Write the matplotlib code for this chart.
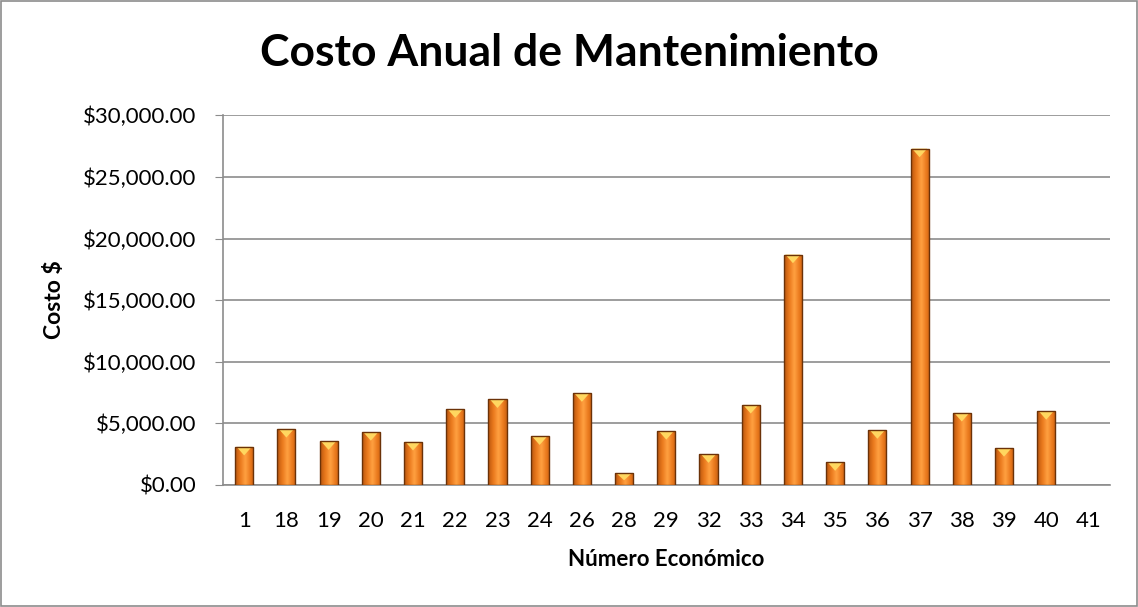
import numpy as np
import matplotlib.pyplot as plt
from matplotlib.patches import Rectangle, Polygon
from matplotlib.colors import LinearSegmentedColormap
from matplotlib.ticker import FuncFormatter

numeros = ["1", "18", "19", "20", "21", "22", "23", "24", "26", "28", "29",
           "32", "33", "34", "35", "36", "37", "38", "39", "40", "41"]
costos = [3100, 4550, 3550, 4300, 3500, 6150, 6950, 3950, 7450, 950, 4380,
          2500, 6500, 18700, 1850, 4450, 27300, 5850, 3000, 6000, 0]

plt.rcParams['font.family'] = ['Lato', 'DejaVu Sans']

fig = plt.figure(figsize=(11.38, 6.07), dpi=100)
ax = fig.add_axes([0.196, 0.201, 0.779, 0.609])

x = np.arange(len(numeros))
width = 0.43
bars = ax.bar(x, costos, width=width, color='#F28A24', edgecolor='none',
              linewidth=0, zorder=3)

# horizontal shading inside each bar
grad = np.linspace(0, 1, 64)
grad = 1 - np.abs(grad - 0.55) * 1.6
grad = np.clip(grad, 0, 1).reshape(1, -1)
cmap = LinearSegmentedColormap.from_list('naranja', ['#B8560F', '#E9781C', '#FFA040'])
for b in bars:
    h = b.get_height()
    if h <= 0:
        continue
    x0 = b.get_x()
    w = b.get_width()
    im = ax.imshow(grad, cmap=cmap, aspect='auto', extent=(x0, x0 + w, 0, h),
                   zorder=3.5, interpolation='bicubic')
    im.set_clip_path(b)
    # bevel highlight at the top
    th = min(700, h * 0.6)
    tri = Polygon([(x0 + w * 0.08, h), (x0 + w * 0.92, h), (x0 + w / 2, h - th)],
                  closed=True, facecolor='#FFD760', edgecolor='none', zorder=4)
    ax.add_patch(tri)
    ax.add_patch(Rectangle((x0, 0), w, h, fill=False, edgecolor='#6B3208',
                           linewidth=1.0, zorder=5))

ax.set_xlim(-0.5, len(numeros) - 0.5)
ax.set_ylim(0, 30000)
ax.set_yticks(np.arange(0, 30001, 5000))
ax.yaxis.set_major_formatter(FuncFormatter(lambda v, p: "${:,.2f}".format(v)))
ax.set_xticks(x)
ax.set_xticklabels(numeros)

ax.grid(axis='y', color='#8C8C8C', linewidth=1.2, zorder=0)
ax.set_axisbelow(True)
for s in ['top', 'right']:
    ax.spines[s].set_visible(False)
ax.spines['left'].set_color('#8C8C8C')
ax.spines['bottom'].set_color('#8C8C8C')
ax.spines['left'].set_linewidth(1.2)
ax.spines['bottom'].set_linewidth(1.2)
ax.tick_params(axis='y', length=6, color='#8C8C8C', labelsize=16, pad=13)
ax.tick_params(axis='x', length=0, labelsize=16, pad=19)

fig.text(0.585, 0.079, "Número Económico", ha='center', va='center',
         fontsize=16, fontweight='bold')
fig.text(0.0475, 0.506, "Costo $", ha='center', va='center', rotation=90,
         fontsize=16.5, fontweight='bold')
fig.text(0.5, 0.913, "Costo Anual de Mantenimiento", ha='center', va='center',
         fontsize=32, fontweight='bold')

fig.add_artist(Rectangle((0.001, 0.001), 0.998, 0.997, transform=fig.transFigure,
                         fill=False, edgecolor='#8C8C8C', linewidth=1.2))

fig.savefig("out.png", dpi=100)
